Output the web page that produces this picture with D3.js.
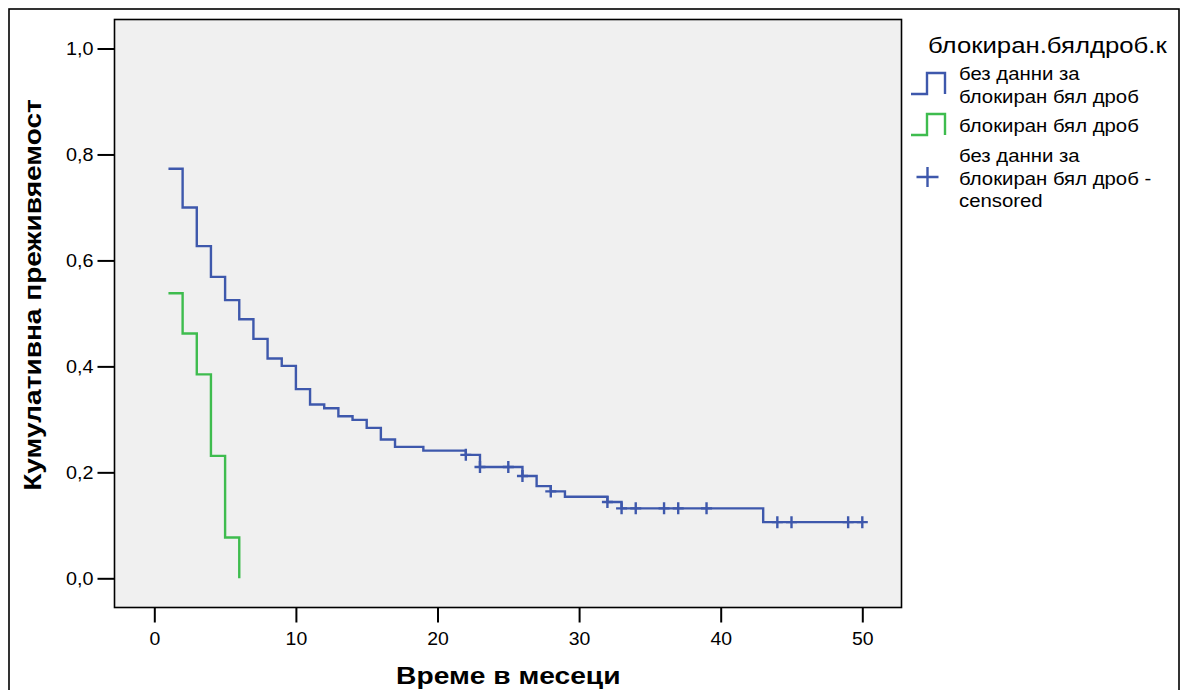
<!DOCTYPE html>
<html>
<head>
<meta charset="utf-8">
<script src="https://cdn.jsdelivr.net/npm/d3@7/dist/d3.min.js"></script>
<style>
  html, body { margin: 0; padding: 0; background: #ffffff; }
  svg { display: block; }
  text { font-family: "Liberation Sans", Arial, sans-serif; fill: #000; }
</style>
</head>
<body>
<svg id="chart" width="1180" height="690"></svg>
<script>
// Kaplan–Meier survival, months since diagnosis
const xTicks = [0, 10, 20, 30, 40, 50];
const yTicks = [0, 0.2, 0.4, 0.6, 0.8, 1.0];

// group "без данни за блокиран бял дроб": event times and survival after each step
const noDataTimes    = [1, 2, 3, 4, 5, 6, 7, 8, 9, 10, 11, 12, 13, 14, 15, 16, 17, 19, 22, 23, 26, 27, 28, 29, 32, 33, 43, 50];
const noDataSurvival = [0.773, 0.700, 0.627, 0.569, 0.525, 0.489, 0.452, 0.415, 0.401, 0.357, 0.328, 0.321, 0.306, 0.299,
                        0.284, 0.262, 0.248, 0.241, 0.233, 0.210, 0.193, 0.174, 0.164, 0.154, 0.144, 0.132, 0.106, 0.106];

// censored cases of the same group
const censorTimes    = [22, 23, 25, 26, 28, 32, 33, 34, 36, 37, 39, 44, 45, 49, 50];
const censorSurvival = [0.233, 0.210, 0.210, 0.193, 0.164, 0.144, 0.132, 0.132, 0.132, 0.132, 0.132, 0.106, 0.106, 0.106, 0.106];

// group "блокиран бял дроб"
const blockedTimes    = [1, 2, 3, 4, 5, 6];
const blockedSurvival = [0.538, 0.462, 0.385, 0.231, 0.077, 0.0];

const legendTitle = "блокиран.бялдроб.к";
const legendLabels = [
  ["без данни за", "блокиран бял дроб"],
  ["блокиран бял дроб"],
  ["без данни за", "блокиран бял дроб -", "censored"]
];
const xTitle = "Време в месеци";
const yTitle = "Кумулативна преживяемост";

const blue = "#3e58ac";
const green = "#3ebc4e";

const svg = d3.select("#chart");

// plot frame
const frame = { left: 114.5, top: 19.5, right: 901.5, bottom: 607.5 };

const x = d3.scaleLinear().domain([0, 50]).range([154.3, 862.3]);
const y = d3.scaleLinear().domain([0, 1]).range([578.3, 48.5]);

// the export uses slightly widened type; stretch glyphs horizontally
const stretch = (sel, tx, ty, sx, rot) =>
  sel.attr("x", 0).attr("y", 0)
     .attr("transform", `translate(${tx},${ty})${rot ? ` rotate(${rot})` : ""} scale(${sx},1)`);

// outer border
svg.append("rect")
  .attr("x", 9).attr("y", 9).attr("width", 1170).attr("height", 720)
  .attr("fill", "#fff").attr("stroke", "#000").attr("stroke-width", 1.6);

svg.append("rect")
  .attr("x", frame.left).attr("y", frame.top)
  .attr("width", frame.right - frame.left).attr("height", frame.bottom - frame.top)
  .attr("fill", "#f0f0f0").attr("stroke", "#000").attr("stroke-width", 1.6);

const fmt = d3.formatLocale({ decimal: ",", thousands: " ", grouping: [3], currency: ["", ""] }).format(".1f");

// x axis
const gx = svg.append("g")
  .attr("transform", `translate(0,${frame.bottom})`)
  .call(d3.axisBottom(x).tickValues(xTicks).tickSize(15).tickPadding(10).tickFormat(d3.format("d")));
gx.select(".domain").remove();
gx.selectAll(".tick line").attr("stroke", "#000").attr("stroke-width", 2);
gx.selectAll(".tick text")
  .attr("font-family", null).attr("font-size", null)
  .style("font-size", "18px")
  .attr("dy", null)
  .each(function () { stretch(d3.select(this), 0, 15 + 10 + 12.8, 1.08); });

// y axis
const gy = svg.append("g")
  .attr("transform", `translate(${frame.left},0)`)
  .call(d3.axisLeft(y).tickValues(yTicks).tickSize(17).tickPadding(4).tickFormat(fmt));
gy.select(".domain").remove();
gy.selectAll(".tick line").attr("stroke", "#000").attr("stroke-width", 2);
gy.selectAll(".tick text")
  .attr("font-family", null).attr("font-size", null)
  .style("font-size", "18px")
  .attr("dy", "0.35em")
  .each(function () { stretch(d3.select(this), -21, 0, 1.1); });

// axis titles
stretch(svg.append("text"), (x(0) + x(50)) / 2, 684, 1.15)
  .attr("text-anchor", "middle")
  .style("font-size", "24.5px").style("font-weight", "bold")
  .text(xTitle);

stretch(svg.append("text"), 40.5, 295, 1.17, -90)
  .attr("text-anchor", "middle")
  .style("font-size", "24px").style("font-weight", "bold")
  .text(yTitle);

// survival step curves
const step = d3.line().x(d => x(d[0])).y(d => y(d[1])).curve(d3.curveStepAfter);

svg.append("path")
  .datum(d3.zip(noDataTimes, noDataSurvival))
  .attr("d", step).attr("fill", "none")
  .attr("stroke", blue).attr("stroke-width", 2.4);

svg.append("path")
  .datum(d3.zip(blockedTimes, blockedSurvival))
  .attr("d", step).attr("fill", "none")
  .attr("stroke", green).attr("stroke-width", 2.4);

// censor marks
const cross = (cx, cy, w, h) => `M${cx - w},${cy}H${cx + w}M${cx},${cy - h}V${cy + h}`;
svg.append("g").selectAll("path")
  .data(d3.zip(censorTimes, censorSurvival))
  .join("path")
  .attr("d", d => cross(x(d[0]), y(d[1]), 5.5, 6))
  .attr("fill", "none").attr("stroke", blue).attr("stroke-width", 2.4);

// legend
const lg = svg.append("g");
stretch(lg.append("text"), 928, 53, 1.17).style("font-size", "22px").text(legendTitle);

const stepIcon = (y0) => `M911,${y0}H927V${y0 - 21}H945V${y0}`;
lg.append("path").attr("d", stepIcon(94)).attr("fill", "none").attr("stroke", blue).attr("stroke-width", 2.4);
lg.append("path").attr("d", stepIcon(135)).attr("fill", "none").attr("stroke", green).attr("stroke-width", 2.4);
lg.append("path").attr("d", cross(927.5, 177, 11, 10)).attr("fill", "none").attr("stroke", blue).attr("stroke-width", 2.4);

const baselines = [[80, 103], [132], [162, 185, 207]];
legendLabels.forEach((lines, i) => {
  lines.forEach((s, j) => {
    stretch(lg.append("text"), 959, baselines[i][j], 1.1).style("font-size", "18.5px").text(s);
  });
});
</script>
</body>
</html>
